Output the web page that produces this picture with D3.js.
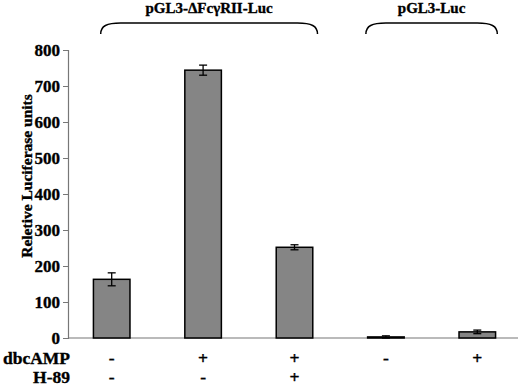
<!DOCTYPE html>
<html>
<head>
<meta charset="utf-8">
<script src="https://cdn.jsdelivr.net/npm/d3@7"></script>
<style>
  body { margin: 0; background: #fff; }
  text { font-family: "Liberation Serif", "Times New Roman", serif; font-weight: 700; fill: #000; stroke: #000; stroke-width: 0.35px; }
</style>
</head>
<body>
<div id="chart"></div>
<script>
// data
const conditions = ['c1', 'c2', 'c3', 'c4', 'c5'];
const values = [163, 744, 252, 3, 17];
const errors = [18, 14, 7, 3, 5];
const dbcAMP = ['-', '+', '+', '-', '+'];
const h89 = ['-', '-', '+', '', ''];
const yTicks = [0, 100, 200, 300, 400, 500, 600, 700, 800];
const groupNames = ['pGL3-\u0394Fc\u03b3RII-Luc', 'pGL3-Luc'];
const groupMembers = [['c1', 'c3'], ['c4', 'c5']];

const W = 520, H = 388;
const svg = d3.select('#chart').append('svg')
  .attr('width', W)
  .attr('height', H);

const x = d3.scaleBand()
  .domain(conditions)
  .range([66, 523])
  .paddingInner(0.6)
  .paddingOuter(0.3);

const y = d3.scaleLinear()
  .domain([0, 800])
  .range([338, 50]);

// y axis
const yAxis = svg.append('g')
  .attr('transform', 'translate(68,0)')
  .call(d3.axisLeft(y).tickValues(yTicks).tickSize(5).tickPadding(3));
yAxis.select('.domain').attr('stroke', '#777').attr('stroke-width', 1.2);
yAxis.selectAll('.tick line').attr('stroke', '#777');
yAxis.selectAll('.tick text')
  .attr('font-size', 17)
  .attr('fill', '#000');

// x axis line
svg.append('line')
  .attr('x1', 68).attr('x2', 518)
  .attr('y1', y(0)).attr('y2', y(0))
  .attr('stroke', '#777')
  .attr('stroke-width', 1.2);

// bars
svg.selectAll('.bar')
  .data(conditions)
  .enter()
  .append('rect')
  .attr('class', 'bar')
  .attr('x', d => x(d))
  .attr('width', x.bandwidth())
  .attr('y', (d, i) => y(values[i]))
  .attr('height', (d, i) => y(0) - y(values[i]))
  .attr('fill', '#858585')
  .attr('stroke', '#000')
  .attr('stroke-width', 1.5);

// error bars
const cx = d => x(d) + x.bandwidth() / 2;
const err = svg.selectAll('.err')
  .data(conditions)
  .enter()
  .append('g')
  .attr('class', 'err')
  .attr('stroke', '#000')
  .attr('stroke-width', 1.3);
err.append('line')
  .attr('x1', cx).attr('x2', cx)
  .attr('y1', (d, i) => y(values[i] + errors[i]))
  .attr('y2', (d, i) => y(Math.max(0, values[i] - errors[i])));
err.append('line')
  .attr('x1', d => cx(d) - 4).attr('x2', d => cx(d) + 4)
  .attr('y1', (d, i) => y(values[i] + errors[i]))
  .attr('y2', (d, i) => y(values[i] + errors[i]));
err.append('line')
  .attr('x1', d => cx(d) - 4).attr('x2', d => cx(d) + 4)
  .attr('y1', (d, i) => y(Math.max(0, values[i] - errors[i])))
  .attr('y2', (d, i) => y(Math.max(0, values[i] - errors[i])));

// treatment rows under the axis
svg.append('text')
  .attr('x', 70).attr('y', 364)
  .attr('text-anchor', 'end')
  .attr('font-size', 17.5)
  .text('dbcAMP');
svg.append('text')
  .attr('x', 70).attr('y', 383)
  .attr('text-anchor', 'end')
  .attr('font-size', 17.5)
  .text('H-89');
svg.selectAll('.sign1')
  .data(conditions)
  .enter()
  .append('text')
  .attr('x', cx)
  .attr('y', 364)
  .attr('text-anchor', 'middle')
  .attr('font-size', 17.5)
  .text((d, i) => dbcAMP[i]);
svg.selectAll('.sign2')
  .data(conditions)
  .enter()
  .append('text')
  .attr('x', cx)
  .attr('y', 383)
  .attr('text-anchor', 'middle')
  .attr('font-size', 17.5)
  .text((d, i) => h89[i]);

// group brackets
const bracketTop = 23, bracketBottom = 34, r = 8;
groupMembers.forEach((m, gi) => {
  const x0 = x(m[0]) + x.bandwidth() / 2 - 11;
  const x1 = x(m[1]) + x.bandwidth() / 2 + 23;
  const xs = gi === 0 ? x0 : x0 - 9;
  const xe = gi === 0 ? x1 : x1 - 3;
  const p = d3.path();
  p.moveTo(xs, bracketBottom);
  p.bezierCurveTo(xs, bracketTop + 3, xs + 6, bracketTop, xs + r * 2.5, bracketTop);
  p.lineTo(xe - r * 2.5, bracketTop);
  p.bezierCurveTo(xe - 6, bracketTop, xe, bracketTop + 3, xe, bracketBottom);
  svg.append('path')
    .attr('d', p.toString())
    .attr('fill', 'none')
    .attr('stroke', '#000')
    .attr('stroke-width', 1.5);
  svg.append('text')
    .attr('x', (xs + xe) / 2)
    .attr('y', 13)
    .attr('text-anchor', 'middle')
    .attr('font-size', 15)
    .text(groupNames[gi]);
});

// y axis title
svg.append('text')
  .attr('transform', 'translate(32,176) rotate(-90)')
  .attr('text-anchor', 'middle')
  .attr('font-size', 15.5)
  .text('Reletive Luciferase units');
</script>
</body>
</html>
